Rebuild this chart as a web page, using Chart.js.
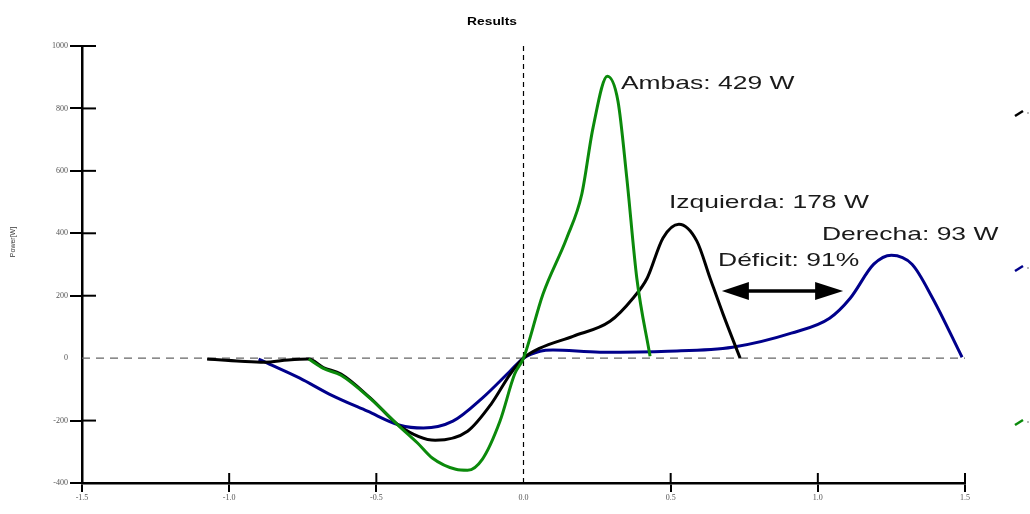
<!DOCTYPE html>
<html>
<head>
<meta charset="utf-8">
<script src="https://cdn.jsdelivr.net/npm/chart.js@4/dist/chart.umd.min.js"></script>
<style>
  html, body { margin: 0; padding: 0; background: #fff; }
  #wrap { width: 1030px; height: 514px; }
</style>
</head>
<body>
<div id="wrap"><canvas id="chart"></canvas></div>
<script>
// values
const ambasX = [-0.73, -0.68, -0.62, -0.52, -0.42, -0.36, -0.31, -0.23, -0.19, -0.14, -0.08, -0.03, 0, 0.066, 0.147, 0.198, 0.236, 0.285, 0.321, 0.351, 0.385, 0.43];
const ambasY = [-3, -33, -55, -130, -220, -272, -320, -356, -359, -324, -202, -51, 0, 205, 385, 525, 737, 903, 823, 577, 256, 6];

const izqX = [-1.075, -0.96, -0.88, -0.8, -0.73, -0.68, -0.62, -0.52, -0.42, -0.30, -0.19, -0.11, -0.045, 0, 0.056, 0.168, 0.294, 0.372, 0.42, 0.474, 0.528, 0.589, 0.634, 0.678, 0.736];
const izqY = [-3, -10, -13, -6, -3, -30, -51, -128, -218, -263, -234, -147, -51, 0, 32, 70, 118, 192, 256, 385, 429, 375, 256, 141, 0];

const derX = [-0.90, -0.87, -0.76, -0.66, -0.53, -0.42, -0.34, -0.24, -0.14, -0.046, 0, 0.056, 0.1, 0.26, 0.49, 0.71, 0.91, 1.04, 1.11, 1.19, 1.25, 1.32, 1.39, 1.49];
const derY = [-3, -16, -64, -115, -170, -215, -224, -202, -128, -42, 0, 22, 26, 19, 22, 35, 80, 128, 192, 301, 330, 301, 192, 3];

const noteTexts = ["Ambas: 429 W", "Izquierda: 178 W", "Derecha: 93 W", "Déficit: 91%"];
const noteX = [0.331, 0.494, 1.014, 0.661];
const noteY = [862, 481, 380, 295];
const arrowX = [0.674, 1.086];
const arrowY = 215;

const toPoints = (xs, ys) => xs.map((x, i) => ({ x, y: ys[i] }));

const drawStretched = (ctx, text, x, y, sx) => {
  ctx.save();
  ctx.translate(x, y);
  ctx.scale(sx, 1);
  ctx.fillText(text, 0, 0);
  ctx.restore();
};

const decorations = {
  id: "decorations",
  beforeDatasetsDraw(chart) {
    const { ctx, chartArea, scales } = chart;
    const y0 = scales.y.getPixelForValue(0);
    const x0 = scales.x.getPixelForValue(0);
    ctx.save();
    ctx.lineWidth = 1.2;
    ctx.strokeStyle = "#666";
    ctx.setLineDash([8, 6]);
    ctx.beginPath();
    ctx.moveTo(chartArea.left, y0);
    ctx.lineTo(chartArea.right, y0);
    ctx.stroke();
    ctx.strokeStyle = "#000";
    ctx.setLineDash([5, 4]);
    ctx.beginPath();
    ctx.moveTo(x0, chartArea.top);
    ctx.lineTo(x0, chartArea.bottom);
    ctx.stroke();
    ctx.restore();
  },
  afterDraw(chart) {
    const { ctx, chartArea, scales } = chart;
    ctx.save();

    // inner parts of the tick marks
    ctx.strokeStyle = "#000";
    ctx.lineWidth = 2;
    scales.y.ticks.forEach((t) => {
      if (t.value === 0) return;
      const py = scales.y.getPixelForValue(t.value);
      ctx.beginPath();
      ctx.moveTo(chartArea.left, py);
      ctx.lineTo(chartArea.left + 14, py);
      ctx.stroke();
    });
    scales.x.ticks.forEach((t) => {
      if (Math.abs(t.value) < 1e-9) return;
      const px = scales.x.getPixelForValue(t.value);
      ctx.beginPath();
      ctx.moveTo(px, chartArea.bottom);
      ctx.lineTo(px, chartArea.bottom - 10);
      ctx.stroke();
    });

    // title
    ctx.fillStyle = "#000";
    ctx.font = "bold 10px 'Liberation Sans', Arial";
    ctx.textBaseline = "middle";
    ctx.textAlign = "left";
    const tw = ctx.measureText("Results").width * 1.38;
    drawStretched(ctx, "Results", 492 - tw / 2, 22, 1.38);

    // y axis title
    ctx.save();
    ctx.translate(13, 242);
    ctx.rotate(-Math.PI / 2);
    ctx.font = "7px 'Liberation Sans', Arial";
    ctx.textAlign = "center";
    ctx.fillStyle = "#333";
    ctx.fillText("Power[W]", 0, 0);
    ctx.restore();

    // annotations
    ctx.font = "18.5px 'Liberation Sans', Arial";
    ctx.fillStyle = "#1a1a1a";
    ctx.textAlign = "left";
    ctx.textBaseline = "alphabetic";
    noteTexts.forEach((txt, i) => {
      drawStretched(ctx, txt, scales.x.getPixelForValue(noteX[i]), scales.y.getPixelForValue(noteY[i]), 1.43);
    });

    // double arrow
    const ax1 = scales.x.getPixelForValue(arrowX[0]);
    const ax2 = scales.x.getPixelForValue(arrowX[1]);
    const ay = scales.y.getPixelForValue(arrowY);
    ctx.strokeStyle = "#000";
    ctx.fillStyle = "#000";
    ctx.lineWidth = 3.5;
    ctx.beginPath();
    ctx.moveTo(ax1 + 20, ay);
    ctx.lineTo(ax2 - 20, ay);
    ctx.stroke();
    ctx.beginPath();
    ctx.moveTo(ax1, ay);
    ctx.lineTo(ax1 + 27, ay - 9);
    ctx.lineTo(ax1 + 27, ay + 9);
    ctx.closePath();
    ctx.fill();
    ctx.beginPath();
    ctx.moveTo(ax2, ay);
    ctx.lineTo(ax2 - 28, ay - 9);
    ctx.lineTo(ax2 - 28, ay + 9);
    ctx.closePath();
    ctx.fill();

    // clipped legend marks at the right edge
    const marks = [["#000", 113], ["#00008b", 268], ["#0b8a0b", 422]];
    marks.forEach(([c, my]) => {
      ctx.strokeStyle = c;
      ctx.lineWidth = 2.5;
      ctx.beginPath();
      ctx.moveTo(1015, my + 3);
      ctx.lineTo(1023, my - 2);
      ctx.stroke();
      ctx.fillStyle = "#bbb";
      ctx.fillRect(1027, my - 1, 2, 2);
    });
    ctx.restore();
  },
};

const tickFont = { family: "'Liberation Serif', 'Times New Roman'", size: 8 };

new Chart(document.getElementById("chart"), {
  type: "scatter",
  data: {
    datasets: [
      {
        label: "Ambas",
        data: toPoints(ambasX, ambasY),
        borderColor: "#0b8a0b",
      },
      {
        label: "Izquierda",
        data: toPoints(izqX, izqY),
        borderColor: "#000000",
      },
      {
        label: "Derecha",
        data: toPoints(derX, derY),
        borderColor: "#00008b",
      },
    ].map((d) => ({
      ...d,
      showLine: true,
      borderWidth: 3,
      pointRadius: 0,
      cubicInterpolationMode: "monotone",
      fill: false,
    })),
  },
  options: {
    responsive: true,
    maintainAspectRatio: false,
    animation: false,
    layout: { padding: { top: 46, right: 65, left: 0, bottom: 0 } },
    plugins: {
      legend: { display: false },
      title: { display: false },
      tooltip: { enabled: false },
    },
    scales: {
      x: {
        type: "linear",
        min: -1.5,
        max: 1.5,
        afterFit: (s) => { s.height = 31; },
        ticks: {
          stepSize: 0.5,
          padding: 1,
          color: "#555",
          font: tickFont,
          maxRotation: 0,
          callback: (v) => Number(v).toFixed(1),
        },
        grid: {
          display: true,
          drawOnChartArea: false,
          drawTicks: true,
          tickLength: 9,
          lineWidth: 2,
          color: (c) => (c.tick && Math.abs(c.tick.value) < 1e-9 ? "rgba(0,0,0,0)" : "#000"),
        },
        border: { display: true, color: "#000", width: 2.5 },
      },
      y: {
        type: "linear",
        min: -400,
        max: 1000,
        afterFit: (s) => { s.width = 82; },
        ticks: {
          stepSize: 200,
          padding: 2,
          color: "#555",
          font: tickFont,
          callback: (v) => String(v),
        },
        grid: {
          display: true,
          drawOnChartArea: false,
          drawTicks: true,
          tickLength: 12,
          lineWidth: 2,
          color: (c) => (c.tick && c.tick.value === 0 ? "rgba(0,0,0,0)" : "#000"),
        },
        border: { display: true, color: "#000", width: 2.5 },
      },
    },
  },
  plugins: [decorations],
});
</script>
</body>
</html>
